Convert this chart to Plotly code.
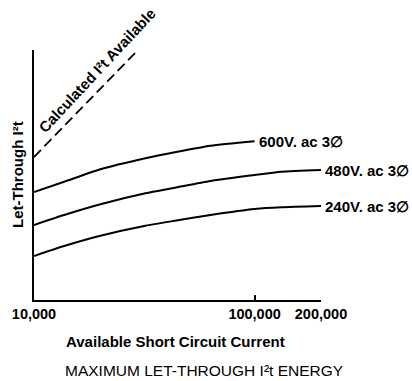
import math
import plotly.graph_objects as go

# Data (y is a unitless relative scale 0-100)
current_600 = [10000, 13700, 20000, 32000, 43500, 63100, 100000]
letthru_600 = [43.2, 47.3, 52.3, 56.7, 59.1, 61.7, 63.5]

current_480 = [10000, 13700, 20000, 32000, 43500, 63100, 100000, 132000, 200000]
letthru_480 = [30.0, 34.0, 38.3, 42.7, 44.9, 47.6, 50.0, 51.3, 52.0]

current_240 = [10000, 13700, 20000, 32000, 43500, 63100, 100000, 132000, 200000]
letthru_240 = [17.6, 21.6, 25.7, 29.7, 31.7, 34.0, 36.4, 37.1, 37.6]

current_avail = [10000, 29600]
letthru_avail = [57.2, 100.0]

curve_labels = ["600V. ac 3\u2205", "480V. ac 3\u2205", "240V. ac 3\u2205"]
x_tick_vals = [10000, 100000, 200000]
x_tick_text = ["10,000", "100,000", "200,000"]

FONT = "Liberation Sans, Arial, Helvetica, sans-serif"
BOLD = dict(family=FONT, size=15, color="black", weight="bold")

fig = go.Figure()
for xs, ys in [(current_600, letthru_600), (current_480, letthru_480), (current_240, letthru_240)]:
    fig.add_trace(go.Scatter(x=xs, y=ys, mode="lines",
                             line=dict(color="black", width=2, shape="spline", smoothing=0.6),
                             showlegend=False, hoverinfo="skip", cliponaxis=False))
fig.add_trace(go.Scatter(x=current_avail, y=letthru_avail, mode="lines",
                         line=dict(color="black", width=1.8, dash="10px,5px"),
                         showlegend=False, hoverinfo="skip", cliponaxis=False))

annotations = []
for xs, ys, lab in [(current_600, letthru_600, curve_labels[0]),
                    (current_480, letthru_480, curve_labels[1]),
                    (current_240, letthru_240, curve_labels[2])]:
    annotations.append(dict(x=math.log10(xs[-1]), y=ys[-1], xref="x", yref="y", text=lab,
                            showarrow=False, xanchor="left", yanchor="middle", xshift=2,
                            font=BOLD))

annotations.append(dict(x=(97 - 34) / 287, y=(300 - 71) / 250, xref="paper", yref="paper",
                        text="Calculated I\u00b2t Available", showarrow=False,
                        textangle=-47, xanchor="center", yanchor="middle", font=BOLD))

annotations.append(dict(x=(175.5 - 34) / 287, y=(300 - 341) / 250, xref="paper", yref="paper",
                        text="Available Short Circuit Current", showarrow=False,
                        xanchor="center", yanchor="middle", font=BOLD))

annotations.append(dict(x=(17 - 34) / 287, y=0.5, xref="paper", yref="paper",
                        text="Let-Through I\u00b2t", showarrow=False, textangle=-90,
                        xanchor="center", yanchor="middle", font=BOLD))

annotations.append(dict(x=(204 - 34) / 287, y=(300 - 380) / 250, xref="paper", yref="paper",
                        text="MAXIMUM LET-THROUGH I\u00b2t ENERGY", showarrow=False,
                        xanchor="center", yanchor="bottom", borderpad=0,
                        font=dict(family=FONT, size=15.5, color="black")))

fig.update_layout(
    width=412, height=381,
    margin=dict(l=34, r=91, t=50, b=81),
    paper_bgcolor="white", plot_bgcolor="white",
    annotations=annotations,
    xaxis=dict(type="log", range=[4, math.log10(200000)], showgrid=False, zeroline=False,
               automargin=False,
               showline=True, linecolor="black", linewidth=2,
               tickmode="array", tickvals=x_tick_vals, ticktext=x_tick_text,
               ticks="inside", ticklen=5, tickwidth=2, tickcolor="black",
               tickfont=dict(family=FONT, size=14.5, color="black", weight="bold")),
    yaxis=dict(range=[0, 100], showgrid=False, zeroline=False, automargin=False,
               showline=True, linecolor="black", linewidth=2,
               showticklabels=False, ticks=""),
)

fig.write_html("out.html", config={"displayModeBar": False},
               post_script="document.body.style.margin='0px';")
